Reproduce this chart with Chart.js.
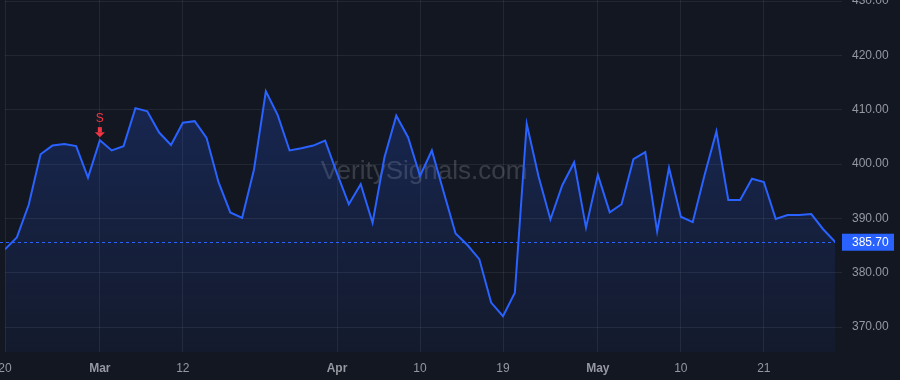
<!DOCTYPE html>
<html>
<head>
<meta charset="utf-8">
<script src="https://cdn.jsdelivr.net/npm/chart.js@4"></script>
<style>
  html, body { margin:0; padding:0; background:#131722; }
  #wrap { width:900px; height:380px; }
</style>
</head>
<body>
<div id="wrap"><canvas id="chart" width="900" height="380"></canvas></div>
<script>
// ── Data ──────────────────────────────────────────────────
// one close per trading day, 20 Feb → 29 May
const prices = [
  384.3,386.5,392.5,401.8,403.4,403.7,403.3,397.5,404.4,402.5,
  403.3,410.3,409.7,405.8,403.5,407.6,407.9,404.8,396.7,391.1,
  390.1,399.0,413.4,409.0,402.5,402.9,403.4,404.3,398.3,392.6,
  396.3,389.2,401.2,408.9,404.9,397.8,402.5,394.8,387.2,385.1,
  382.5,374.5,372.0,376.3,407.4,397.7,389.8,396.1,400.3,388.3,
  398.0,391.1,392.6,400.9,402.2,387.6,399.3,390.3,389.3,398.0,
  406.0,393.4,393.4,397.3,396.7,389.9,390.6,390.6,390.8,388.0,385.7
];
const tickPos  = [0, 8, 15, 28, 35, 42, 50, 57, 64];
const tickText = ['20','Mar','12','Apr','10','19','May','10','21'];
const monthNames = ['Mar','Apr','May'];
const signalIdx = [8];
const signalText = ['S'];
const watermark = 'VeritySignals.com';

// ── Style ─────────────────────────────────────────────────
const BLUE = '#2962ff';
const RED = '#f23645';
const gridC = 'rgba(255,255,255,0.07)';
const tickC = '#9598a1';
const FONT = '"Liberation Sans", Arial, sans-serif';

// ── Overlay plugin: watermark, last price, signals ───────
const overlay = {
  id: 'overlay',
  beforeDatasetsDraw(chart) {
    const {ctx, chartArea: a, scales: {y}} = chart;
    ctx.save();
    ctx.font = '26px ' + FONT;
    ctx.fillStyle = 'rgba(255,255,255,0.16)';
    ctx.textAlign = 'center';
    ctx.textBaseline = 'middle';
    ctx.fillText(watermark, (a.left + a.right) / 2 + 4, (a.top + a.bottom) / 2 - 4);
    // dashed last price line
    const last = prices[prices.length - 1];
    const py = Math.round(y.getPixelForValue(last)) + 0.5;
    ctx.strokeStyle = BLUE;
    ctx.lineWidth = 1;
    ctx.setLineDash([3, 3]);
    ctx.beginPath();
    ctx.moveTo(0, py);
    ctx.lineTo(a.right, py);
    ctx.stroke();
    ctx.restore();
  },
  afterDraw(chart) {
    const {ctx, chartArea: a, scales: {x, y}} = chart;
    ctx.save();
    // last price tag
    const last = prices[prices.length - 1];
    const py = y.getPixelForValue(last);
    ctx.fillStyle = BLUE;
    ctx.fillRect(a.right + 7, py - 8, 52, 17);
    ctx.fillStyle = '#ffffff';
    ctx.font = '12px ' + FONT;
    ctx.textAlign = 'left';
    ctx.textBaseline = 'middle';
    ctx.fillText(last.toFixed(2), a.right + 17, py + 1);
    // signal markers
    signalIdx.forEach((idx, k) => {
      const sx = x.getPixelForValue(idx);
      const sy = y.getPixelForValue(prices[idx]);
      ctx.fillStyle = RED;
      ctx.font = '12px ' + FONT;
      ctx.textAlign = 'center';
      ctx.fillText(signalText[k], sx, sy - 21);
      ctx.fillRect(sx - 2, sy - 13, 4, 5);
      ctx.beginPath();
      ctx.moveTo(sx - 5, sy - 8);
      ctx.lineTo(sx + 5, sy - 8);
      ctx.lineTo(sx, sy - 3);
      ctx.closePath();
      ctx.fill();
    });
    ctx.restore();
  }
};

// ── Chart ─────────────────────────────────────────────────
new Chart(document.getElementById('chart'), {
  type: 'line',
  data: {
    datasets: [{
      data: prices.map((v, i) => ({x: i, y: v})),
      borderColor: BLUE,
      borderWidth: 2,
      pointRadius: 0,
      tension: 0,
      fill: 'start',
      backgroundColor: (c) => {
        const a = c.chart.chartArea;
        if (!a) return 'rgba(41,98,255,0.15)';
        const g = c.chart.ctx.createLinearGradient(0, a.top, 0, a.bottom);
        g.addColorStop(0, 'rgba(41,98,255,0.28)');
        g.addColorStop(1, 'rgba(41,98,255,0.05)');
        return g;
      }
    }]
  },
  options: {
    responsive: false,
    animation: false,
    devicePixelRatio: 1,
    layout: { padding: { left: 5, top: 0, right: 0, bottom: 0 } },
    plugins: { legend: {display:false}, tooltip: {enabled:false} },
    scales: {
      x: {
        type: 'linear', min: 0, max: prices.length - 1,
        afterBuildTicks: ax => { ax.ticks = tickPos.map(v => ({value: v})); },
        afterFit: ax => { ax.height = 28; ax.paddingLeft = 0; ax.paddingRight = 0; },
        border: { display: false },
        grid: { color: gridC, drawTicks: false, tickLength: 0 },
        ticks: {
          autoSkip: false, maxRotation: 0, padding: 9, color: tickC,
          font: c => ({ family: FONT, size: 12,
            weight: monthNames.includes(tickText[c.index]) ? 'bold' : 'normal' }),
          callback: (v, i) => tickText[i]
        }
      },
      y: {
        position: 'right', min: 365.4, max: 430.2,
        afterFit: ax => { ax.width = 65; ax.paddingTop = 0; ax.paddingBottom = 0; },
        border: { display: false },
        grid: { color: gridC, tickLength: 7, tickColor: gridC },
        ticks: {
          stepSize: 10, includeBounds: false, padding: 10, color: tickC,
          font: { family: FONT, size: 12 },
          callback: v => v.toFixed(2)
        }
      }
    }
  },
  plugins: [overlay]
});
</script>
</body>
</html>
